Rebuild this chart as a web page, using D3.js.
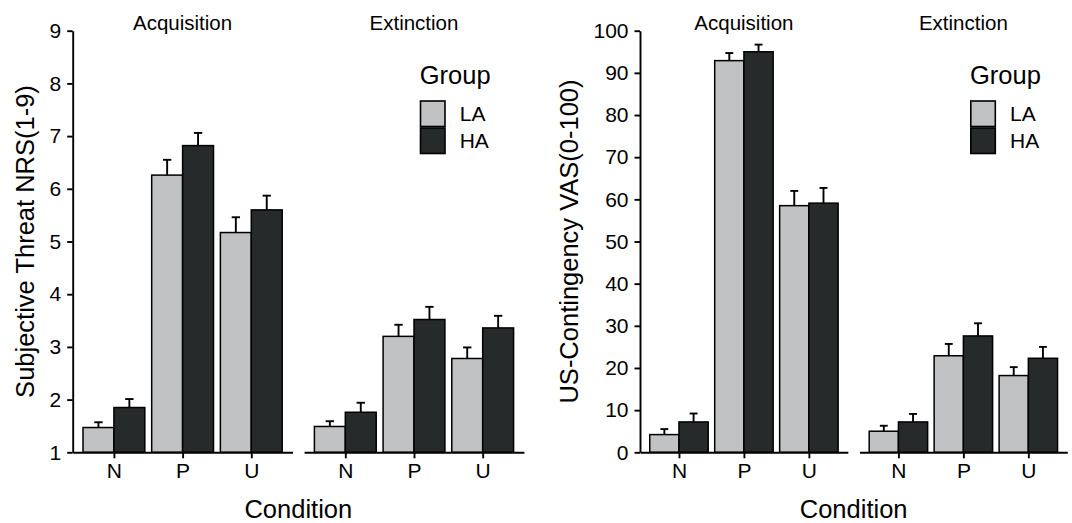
<!DOCTYPE html>
<html>
<head>
<meta charset="utf-8">
<script src="https://cdn.jsdelivr.net/npm/d3@7"></script>
<style>
  html, body { margin: 0; padding: 0; background: #ffffff; }
  svg { display: block; }
  text { font-family: "Liberation Sans", Arial, Helvetica, sans-serif; fill: #000; }
</style>
</head>
<body>
<div id="chart"></div>
<script>
// ---------------- data ----------------
const conditions = ["N", "P", "U"];
const phases = ["Acquisition", "Extinction"];
const groups = ["LA", "HA"];

// Subjective Threat NRS(1-9): means and standard errors
const threatAcqLA = [1.47, 6.26, 5.17];
const threatAcqHA = [1.85, 6.82, 5.60];
const threatExtLA = [1.49, 3.20, 2.78];
const threatExtHA = [1.76, 3.52, 3.36];
const threatAcqLAse = [0.10, 0.29, 0.29];
const threatAcqHAse = [0.16, 0.24, 0.27];
const threatExtLAse = [0.10, 0.22, 0.21];
const threatExtHAse = [0.18, 0.24, 0.23];
const threatTicks = [1, 2, 3, 4, 5, 6, 7, 8, 9];

// US-Contingency VAS(0-100): means and standard errors
const vasAcqLA = [4.2, 92.9, 58.5];
const vasAcqHA = [7.2, 95.0, 59.1];
const vasExtLA = [5.0, 22.9, 18.2];
const vasExtHA = [7.2, 27.6, 22.3];
const vasAcqLAse = [1.3, 1.8, 3.5];
const vasAcqHAse = [2.0, 1.7, 3.6];
const vasExtLAse = [1.3, 2.8, 2.0];
const vasExtHAse = [1.9, 3.0, 2.7];
const vasTicks = [0, 10, 20, 30, 40, 50, 60, 70, 80, 90, 100];

const groupColors = ["#c1c2c4", "#262a2b"];

// build tables from the arrays
function buildRows(acqLA, acqHA, extLA, extHA, acqLAse, acqHAse, extLAse, extHAse) {
  const src = {
    Acquisition: { LA: [acqLA, acqLAse], HA: [acqHA, acqHAse] },
    Extinction:  { LA: [extLA, extLAse], HA: [extHA, extHAse] }
  };
  const rows = [];
  phases.forEach(ph => groups.forEach(g => conditions.forEach((c, i) => {
    rows.push({ phase: ph, group: g, condition: c, mean: src[ph][g][0][i], se: src[ph][g][1][i] });
  })));
  return rows;
}
const threatRows = buildRows(threatAcqLA, threatAcqHA, threatExtLA, threatExtHA,
                             threatAcqLAse, threatAcqHAse, threatExtLAse, threatExtHAse);
const vasRows = buildRows(vasAcqLA, vasAcqHA, vasExtLA, vasExtHA,
                          vasAcqLAse, vasAcqHAse, vasExtLAse, vasExtHAse);

// ---------------- drawing ----------------
const W = 1072, H = 523;
const svg = d3.select("#chart").append("svg").attr("width", W).attr("height", H);

const color = d3.scaleOrdinal().domain(groups).range(groupColors);

function drawChart(cfg) {
  const g = svg.append("g");
  const y = d3.scaleLinear().domain(cfg.domain).range([cfg.yBottom, cfg.yTop]);
  const gap = 11.6;

  phases.forEach((ph, pi) => {
    const x0 = cfg.axisX + pi * (cfg.panelW + gap);
    const x = d3.scalePoint().domain(conditions).range([x0, x0 + cfg.panelW]).padding(0.6);
    const step = x.step();
    const xg = d3.scaleBand().domain(groups).range([-0.45 * step, 0.45 * step]).padding(0);
    const bw = xg.bandwidth();
    const rows = cfg.rows.filter(r => r.phase === ph);

    // error bars (upper only) drawn below bars
    const eb = g.append("g");
    rows.forEach(r => {
      const cx = x(r.condition) + xg(r.group) + bw / 2;
      eb.append("line")
        .attr("x1", cx).attr("x2", cx)
        .attr("y1", y(r.mean)).attr("y2", y(r.mean + r.se))
        .attr("stroke", "#000").attr("stroke-width", 1.9);
      eb.append("line")
        .attr("x1", cx - bw * 0.135).attr("x2", cx + bw * 0.135)
        .attr("y1", y(r.mean + r.se)).attr("y2", y(r.mean + r.se))
        .attr("stroke", "#000").attr("stroke-width", 1.9);
    });

    // bars
    g.append("g").selectAll("rect").data(rows).join("rect")
      .attr("x", r => x(r.condition) + xg(r.group))
      .attr("width", bw)
      .attr("y", r => y(r.mean))
      .attr("height", r => y(cfg.domain[0]) - y(r.mean))
      .attr("fill", r => color(r.group))
      .attr("stroke", "#000")
      .attr("stroke-width", 1.5);

    // x axis
    const ax = g.append("g")
      .attr("transform", `translate(0,${cfg.yBottom})`)
      .call(d3.axisBottom(x).tickSizeInner(6).tickSizeOuter(0).tickPadding(4.5));
    ax.select(".domain").attr("stroke", "#000").attr("stroke-width", 1.9);
    ax.selectAll(".tick line").attr("stroke", "#000").attr("stroke-width", 1.9);
    ax.selectAll(".tick text").style("font-size", "21px").attr("fill", "#000")
      .style("font-family", "'Liberation Sans', Arial, sans-serif");

    // strip label
    g.append("text")
      .attr("x", x0 + cfg.panelW / 2)
      .attr("y", 29.5)
      .attr("text-anchor", "middle")
      .style("font-size", "20.5px")
      .text(ph);
  });

  // y axis
  const ay = g.append("g")
    .attr("transform", `translate(${cfg.axisX},0)`)
    .call(d3.axisLeft(y).tickValues(cfg.ticks).tickFormat(d3.format("d"))
      .tickSizeInner(5.5).tickSizeOuter(0).tickPadding(6));
  ay.select(".domain").attr("stroke", "#000").attr("stroke-width", 1.9);
  ay.selectAll(".tick line").attr("stroke", "#000").attr("stroke-width", 1.9);
  ay.selectAll(".tick text").style("font-size", "21px").attr("fill", "#000")
    .style("font-family", "'Liberation Sans', Arial, sans-serif");

  // y title
  g.append("text")
    .attr("transform", `translate(${cfg.yTitleX},${(cfg.yTop + cfg.yBottom) / 2}) rotate(-90)`)
    .attr("text-anchor", "middle")
    .style("font-size", "25.5px")
    .text(cfg.yTitle);

  // x title
  const fullW = cfg.panelW * 2 + gap;
  g.append("text")
    .attr("x", cfg.axisX + fullW / 2)
    .attr("y", 518)
    .attr("text-anchor", "middle")
    .style("font-size", "25.5px")
    .text("Condition");

  // legend
  const lg = g.append("g").attr("transform", `translate(${cfg.legendX},0)`);
  lg.append("text").attr("x", 0).attr("y", 84).style("font-size", "25.5px").text("Group");
  groups.forEach((gr, i) => {
    lg.append("rect")
      .attr("x", 0.8).attr("y", 101 + i * 27)
      .attr("width", 24.5).attr("height", 25.5)
      .attr("fill", color(gr)).attr("stroke", "#000").attr("stroke-width", 1.6);
    lg.append("text")
      .attr("x", 40).attr("y", 113.8 + i * 27)
      .attr("dy", "0.36em")
      .style("font-size", "21px")
      .text(gr);
  });
}

drawChart({
  rows: threatRows, domain: [1, 9], ticks: threatTicks,
  axisX: 72.7, panelW: 219.8, yTop: 30.7, yBottom: 452.3,
  yTitle: "Subjective Threat NRS(1-9)", yTitleX: 34, legendX: 419.7
});
drawChart({
  rows: vasRows, domain: [0, 100], ticks: vasTicks,
  axisX: 640, panelW: 207.85, yTop: 30.7, yBottom: 452.3,
  yTitle: "US-Contingency VAS(0-100)", yTitleX: 578, legendX: 970
});
</script>
</body>
</html>
